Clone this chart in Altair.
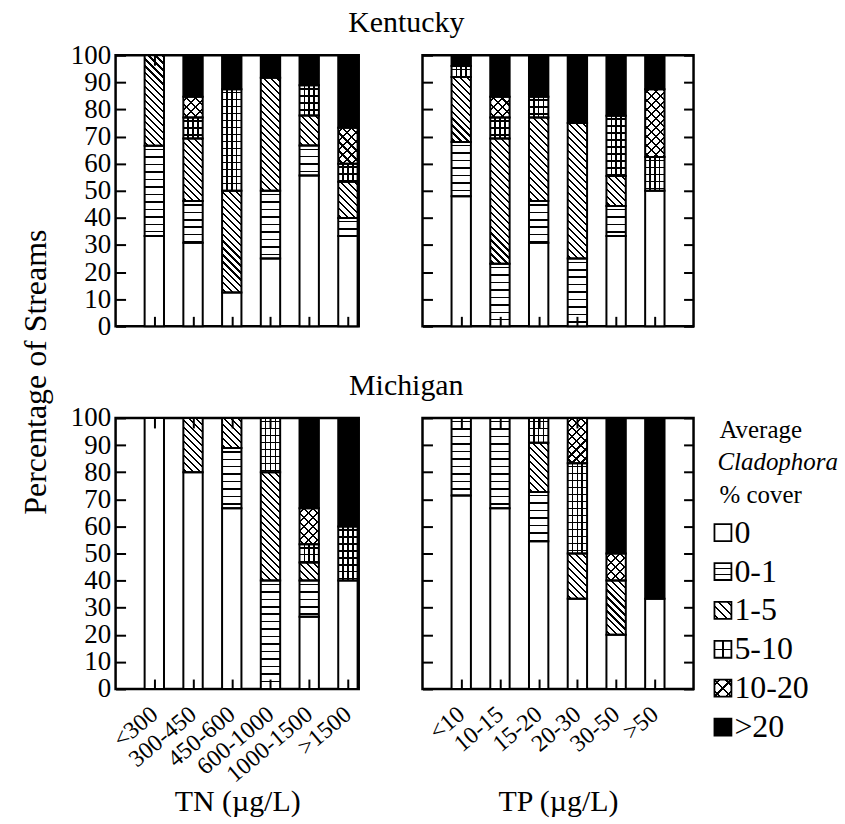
import math
import altair as alt
import pandas as pd

SERIF = "Liberation Serif"
INK = "black"
CLEAR = "rgba(0,0,0,0)"

# ---------------- data (percentage of streams per cover class) ----------------
COVER = ["0", "0-1", "1-5", "5-10", "10-20", ">20"]
TN_BINS = ["<300", "300-450", "450-600", "600-1000", "1000-1500", ">1500"]
TP_BINS = ["<10", "10-15", "15-20", "20-30", "30-50", ">50"]

# one row per nutrient bin, values in COVER order
KY_TN = [
    [33.3, 33.3, 33.4, 0.0, 0.0, 0.0],
    [30.8, 15.4, 23.1, 7.7, 7.7, 15.3],
    [12.5, 0.0, 37.5, 37.5, 0.0, 12.5],
    [25.0, 25.0, 41.7, 0.0, 0.0, 8.3],
    [55.6, 11.1, 11.1, 11.1, 0.0, 11.1],
    [33.3, 6.7, 13.3, 6.7, 13.3, 26.7],
]
KY_TP = [
    [48.0, 20.0, 24.0, 4.0, 0.0, 4.0],
    [0.0, 23.1, 46.2, 7.7, 7.7, 15.3],
    [30.8, 15.4, 30.8, 7.7, 0.0, 15.3],
    [0.0, 25.0, 50.0, 0.0, 0.0, 25.0],
    [33.3, 11.1, 11.1, 22.2, 0.0, 22.3],
    [50.0, 0.0, 0.0, 12.5, 25.0, 12.5],
]
MI_TN = [
    [100.0, 0.0, 0.0, 0.0, 0.0, 0.0],
    [80.0, 0.0, 20.0, 0.0, 0.0, 0.0],
    [66.7, 22.2, 11.1, 0.0, 0.0, 0.0],
    [0.0, 40.0, 40.0, 20.0, 0.0, 0.0],
    [26.7, 13.3, 6.7, 6.7, 13.3, 33.3],
    [40.0, 0.0, 0.0, 20.0, 0.0, 40.0],
]
MI_TP = [
    [71.4, 28.6, 0.0, 0.0, 0.0, 0.0],
    [66.7, 33.3, 0.0, 0.0, 0.0, 0.0],
    [54.5, 18.2, 18.2, 9.1, 0.0, 0.0],
    [33.3, 0.0, 16.7, 33.3, 16.7, 0.0],
    [20.0, 0.0, 20.0, 0.0, 10.0, 50.0],
    [33.3, 0.0, 0.0, 0.0, 0.0, 66.7],
]
LEGEND_HEAD = ["Average", "Cladophora", "% cover"]

# ---------------- layout constants ----------------
PANEL_H = 272
STEP = 38.86          # pixels per bin on the x scale
TN_W = 244
TP_W = 272
HALF = 0.25           # half bar width in bin units
TICK = 10
BAR_W = 2 * HALF * STEP
HEAD_STEP = 0.833     # legend heading line spacing (in legend rows)
ENTRY_START = 2.64    # legend row where the first entry sits
LW = 1.5              # hatch line width (px)


# ---------------- hatch patterns built as linear gradients ----------------
def _grad(x1, y1, x2, y2, centers, lw, L, bg):
    stops = [(0.0, bg)]
    for c in centers:
        a = min(max((c - lw / 2) / L, 0.0), 1.0)
        b = min(max((c + lw / 2) / L, 0.0), 1.0)
        stops += [(a, bg), (a, INK), (b, INK), (b, bg)]
    stops.append((1.0, bg))
    return alt.LinearGradient(
        gradient="linear",
        stops=[alt.GradientStop(offset=round(o, 5), color=c) for o, c in stops],
        x1=round(x1, 5), y1=round(y1, 5), x2=round(x2, 5), y2=round(y2, 5),
    )


def _centers(L, P, phase):
    out, c = [], phase
    while c < L - 0.3:
        out.append(c)
        c += P
    return out


def hlines(w, h, P, bg, phase=None):
    return _grad(0, 0, 0, 1, _centers(h, P, P / 2 if phase is None else phase), LW, h, bg)


def vlines(w, h, P, bg, phase=None):
    return _grad(0, 0, 1, 0, _centers(w, P, P if phase is None else phase), LW, w, bg)


def back_diag(w, h, P, bg):
    c0 = (w + h) / (w * w + h * h)
    L = w + h
    return _grad(0, 1, c0 * w, 1 - c0 * h, _centers(L, P, P / 2), LW * math.sqrt(2), L, bg)


def fwd_diag(w, h, P, bg):
    c0 = (w + h) / (w * w + h * h)
    L = w + h
    return _grad(0, 0, c0 * w, c0 * h, _centers(L, P, P / 2), LW * math.sqrt(2), L, bg)


def pattern_fills(cover, w, h, small=False):
    if cover == "0":
        return ["white"]
    if cover == ">20":
        return [INK]
    if cover == "0-1":
        return [hlines(w, h, w / 3 if small else 7.5, "white", w / 3 if small else None)]
    if cover == "1-5":
        return [back_diag(w, h, 8.5 if small else 7.0, "white")]
    if cover == "5-10":
        if small:
            return [hlines(w, h, w / 2, "white", w / 2), vlines(w, h, w / 2, CLEAR, w / 2)]
        return [hlines(w, h, 7.0, "white"), vlines(w, h, w / 4, CLEAR)]
    if cover == "10-20":
        P = 11.3 if small else 9.0
        return [back_diag(w, h, P, "white"), fwd_diag(w, h, P, CLEAR)]
    return ["white"]


# ---------------- panels ----------------
def seg_table(rows):
    recs = []
    for i, vals in enumerate(rows):
        base = 0.0
        for j, v in enumerate(vals):
            if v > 0:
                recs.append(dict(sid=len(recs), pos=i + 1, cover=COVER[j],
                                 y0=base, y1=min(base + v, 100.0), val=v))
            base += v
    return pd.DataFrame(recs)


def panel(rows, labels, width, xmax, left_labels, bottom_labels, xtitle, right_ticks):
    df = seg_table(rows)
    xs = alt.Scale(domain=[0, xmax], nice=False, zero=False)
    ys = alt.Scale(domain=[0, 100], nice=False)
    base = alt.Chart(df).transform_calculate(
        xl=f"datum.pos - {HALF}", xr=f"datum.pos + {HALF}"
    )

    def enc(ch, xaxis, yaxis):
        return ch.encode(
            x=alt.X("xl:Q", scale=xs, axis=xaxis),
            x2="xr",
            y=alt.Y("y0:Q", scale=ys, axis=yaxis),
            y2="y1",
        )

    layers = []
    for r in df.itertuples():
        h = r.val / 100.0 * PANEL_H
        for f in pattern_fills(r.cover, BAR_W, h):
            layers.append(enc(base.transform_filter(alt.datum.sid == r.sid).mark_bar(fill=f), None, None))

    lab_expr = "[" + ",".join(f"'{l}'" for l in labels) + "][datum.value - 1]"
    xvals = list(range(1, len(labels) + 1))
    yvals = list(range(0, 101, 10))
    bottom = alt.Axis(
        orient="bottom", values=xvals, offset=-TICK, tickSize=TICK, labels=bottom_labels,
        labelExpr=lab_expr, labelAngle=-40, labelAlign="right", labelBaseline="middle",
        labelFontSize=24, labelPadding=22, labelOverlap=False, labelFlush=False,
        title=xtitle, titleFontSize=30, titleBaseline="alphabetic", titleY=132, zindex=1,
    )
    left = alt.Axis(
        orient="left", values=yvals, offset=-TICK, tickSize=TICK, labels=left_labels,
        labelFontSize=27, labelPadding=5, labelOverlap=False, labelFlush=False,
        title=None, zindex=1,
    )
    top = alt.Axis(orient="top", values=xvals, offset=-TICK, tickSize=TICK, labels=False,
                   title=None, zindex=1)
    right = alt.Axis(orient="right", values=yvals, offset=-TICK, tickSize=TICK, labels=False,
                     title=None, zindex=1)

    outline = enc(base.mark_bar(fillOpacity=0, stroke=INK, strokeWidth=2), bottom, left)
    mirror = enc(base.mark_bar(opacity=0), top, right if right_ticks else None)
    return alt.layer(*layers, outline, mirror).resolve_axis(
        x="independent", y="independent"
    ).properties(width=width, height=PANEL_H)


# ---------------- legend ----------------
def legend_chart():
    ldf = pd.DataFrame({"row": [ENTRY_START + i for i in range(len(COVER))], "label": COVER})
    hdf = pd.DataFrame({"row": [HEAD_STEP * i for i in range(len(LEGEND_HEAD))], "label": LEGEND_HEAD})
    ys = alt.Scale(domain=[-0.31, 8.2], reverse=True, nice=False, zero=False)
    y = alt.Y("row:Q", scale=ys, axis=None)
    sq = 17
    layers = []
    for c in COVER:
        for f in pattern_fills(c, sq, sq, small=True):
            layers.append(
                alt.Chart(ldf).transform_filter(alt.datum.label == c)
                .mark_square(size=sq * sq, fill=f, opacity=1)
                .encode(x=alt.value(14.5), y=y)
            )
    layers.append(
        alt.Chart(ldf).mark_square(size=sq * sq, fillOpacity=0, stroke=INK, strokeWidth=1.8)
        .encode(x=alt.value(14.5), y=y)
    )
    layers.append(
        alt.Chart(ldf).mark_text(align="left", baseline="middle", font=SERIF, fontSize=32, color=INK)
        .encode(x=alt.value(26), y=y, text="label:N")
    )
    layers.append(
        alt.Chart(hdf).transform_filter(alt.datum.label != "Cladophora")
        .mark_text(align="left", baseline="middle", font=SERIF, fontSize=25, color=INK)
        .encode(x=alt.value(11), y=y, text="label:N")
    )
    layers.append(
        alt.Chart(hdf).transform_filter(alt.datum.label == "Cladophora")
        .mark_text(align="left", baseline="middle", font=SERIF, fontSize=25, fontStyle="italic", color=INK)
        .encode(x=alt.value(9), y=y, text="label:N")
    )
    return alt.layer(*layers).properties(
        width=130, height=332, view=alt.ViewBackground(stroke="transparent")
    )


ky_tn = panel(KY_TN, TN_BINS, TN_W, TN_W / STEP, True, False, None, False)
ky_tp = panel(KY_TP, TP_BINS, TP_W, TP_W / STEP, False, False, None, True)
mi_tn = panel(MI_TN, TN_BINS, TN_W, TN_W / STEP, True, True, "TN (µg/L)", False)
mi_tp = panel(MI_TP, TP_BINS, TP_W, TP_W / STEP, False, True, "TP (µg/L)", True)

row_title = dict(fontSize=30, anchor="middle", font=SERIF, fontWeight="normal", color=INK, offset=2)
row1 = alt.hconcat(ky_tn, ky_tp, spacing=64, bounds="flush",
                   title=alt.TitleParams("Kentucky", dx=24, **row_title))
row2_inner = alt.hconcat(mi_tn, mi_tp, spacing=64, bounds="flush",
                         title=alt.TitleParams("Michigan", dx=24, **row_title))
row2 = alt.hconcat(row2_inner, legend_chart(), spacing=10)

chart = alt.vconcat(
    row1, row2, spacing=29,
    title=alt.TitleParams("Percentage of Streams", orient="left", anchor="middle", font=SERIF,
                          fontSize=32, fontWeight="normal", color=INK, offset=16, dx=41),
).properties(
    padding={"left": 20, "top": 6, "right": 5, "bottom": 5}
).configure_view(
    stroke=INK, strokeWidth=2.5
).configure_axis(
    grid=False, domain=False, tickColor=INK, tickWidth=2, labelColor=INK, titleColor=INK,
    labelFont=SERIF, titleFont=SERIF, titleFontWeight="normal",
).configure_title(font=SERIF, fontWeight="normal", color=INK)

chart.save("out.html", embed_options={"renderer": "svg", "actions": False})
